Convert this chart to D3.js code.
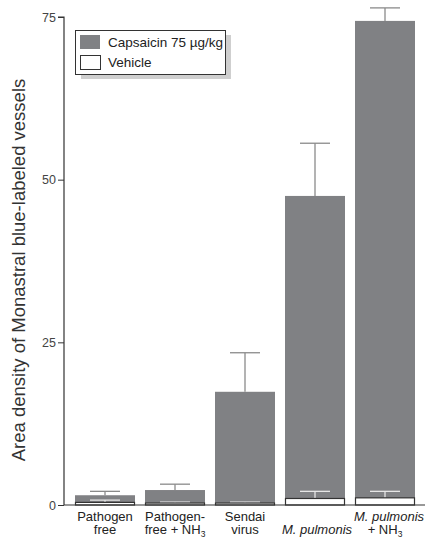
<!DOCTYPE html>
<html>
<head>
<meta charset="utf-8">
<script src="https://cdn.jsdelivr.net/npm/d3@7"></script>
<style>
  body { margin: 0; background: #fff; }
  svg text { font-family: "Liberation Sans Narrow", "Liberation Sans", Arial, sans-serif; }
</style>
</head>
<body>
<svg id="chart" width="426" height="539"></svg>
<script>
// groupes et valeurs
const groups = ['pf', 'pfnh3', 'sendai', 'mp', 'mpnh3'];
const capsaicin    = [1.5, 2.3, 17.4, 47.5, 74.4];
const capsaicinErr = [0.6, 0.9, 6.0, 8.1, 2.0];
const vehicle      = [0.4, 0.3, 0.3, 1.0, 1.1];
const vehicleErr   = [0.35, 0.15, 0.15, 1.1, 1.0];
const yTicks = [0, 25, 50, 75];
const legendLabels = ['Capsaicin 75 \u00b5g/kg', 'Vehicle'];

const GREY = '#808184';
const svg = d3.select('#chart');

const x = d3.scaleBand().domain(groups).range([70, 420]).paddingInner(1 / 7).paddingOuter(1 / 14);
const y = d3.scaleLinear().domain([0, 75]).range([505, 17]);
const bw = x.bandwidth();
const capW = bw / 2;

// barres capsaicine
const g = svg.append('g');
groups.forEach((k, i) => {
  const cx = x(k) + bw / 2;
  g.append('rect')
    .attr('x', x(k)).attr('width', bw)
    .attr('y', y(capsaicin[i])).attr('height', y(0) - y(capsaicin[i]))
    .attr('fill', GREY);
  const top = y(capsaicin[i] + capsaicinErr[i]);
  g.append('line').attr('x1', cx).attr('x2', cx).attr('y1', y(capsaicin[i])).attr('y2', top)
    .attr('stroke', '#8a8a8a').attr('stroke-width', 1.3);
  g.append('line').attr('x1', cx - capW / 2).attr('x2', cx + capW / 2).attr('y1', top).attr('y2', top)
    .attr('stroke', '#8a8a8a').attr('stroke-width', 1.3);
});

// barres véhicule (par-dessus)
groups.forEach((k, i) => {
  const cx = x(k) + bw / 2;
  const top = y(vehicle[i] + vehicleErr[i]);
  g.append('line').attr('x1', cx).attr('x2', cx).attr('y1', y(vehicle[i])).attr('y2', top)
    .attr('stroke', '#e6e6e6').attr('stroke-width', 1.3);
  g.append('line').attr('x1', cx - capW / 2).attr('x2', cx + capW / 2).attr('y1', top).attr('y2', top)
    .attr('stroke', '#e6e6e6').attr('stroke-width', 1.3);
  g.append('rect')
    .attr('x', x(k) + 0.5).attr('width', bw - 1)
    .attr('y', y(vehicle[i])).attr('height', y(0) - y(vehicle[i]))
    .attr('fill', '#fff').attr('stroke', '#333').attr('stroke-width', 1.2);
});

// axes
const yAxis = svg.append('g').attr('transform', 'translate(64,0)')
  .call(d3.axisLeft(y).tickValues(yTicks).tickSize(6).tickPadding(2));
yAxis.select('.domain').attr('stroke', '#333').attr('stroke-width', 1.2).attr('d', `M-6,${y(75)}H0V${y(0)}`);
yAxis.selectAll('.tick line').attr('stroke', '#333');
yAxis.selectAll('.tick text').attr('font-size', 12.5).attr('fill', '#444')
  .style('font-family', '"Liberation Sans Narrow", Arial, sans-serif');

svg.append('line').attr('x1', 64).attr('x2', 425).attr('y1', y(0)).attr('y2', y(0))
  .attr('stroke', '#333').attr('stroke-width', 1.2);

svg.append('text')
  .attr('transform', `translate(25,${(y(0) + y(75)) / 2 + 9}) rotate(-90)`)
  .attr('text-anchor', 'middle').attr('font-size', 18.5).attr('fill', '#333')
  .text('Area density of Monastral blue-labeled vessels');

// libellés des catégories
const lab = svg.append('g').attr('font-size', 13).attr('fill', '#222').attr('text-anchor', 'middle');
function line(cx, yy, parts) {
  const t = lab.append('text').attr('x', cx).attr('y', yy);
  parts.forEach(p => {
    const s = t.append('tspan').text(p.t);
    if (p.i) s.attr('font-style', 'italic');
    if (p.sub) s.attr('font-size', 8.5).attr('dy', 2.5);
  });
  return t;
}
const c = k => x(k) + bw / 2;
line(c('pf'), 520.5, [{ t: 'Pathogen' }]);
line(c('pf'), 534, [{ t: 'free' }]);
line(c('pfnh3'), 520.5, [{ t: 'Pathogen-' }]);
line(c('pfnh3'), 534, [{ t: 'free + NH' }, { t: '3', sub: true }]);
line(c('sendai'), 520.5, [{ t: 'Sendai' }]);
line(c('sendai'), 534, [{ t: 'virus' }]);
line(c('mp') + 2, 534, [{ t: 'M. pulmonis', i: true }]);
line(c('mpnh3') + 4, 520.5, [{ t: 'M. pulmonis', i: true }]);
line(c('mpnh3'), 534, [{ t: '+ NH' }, { t: '3', sub: true }]);

// légende avec ombre
const lg = svg.append('g');
lg.append('rect').attr('x', 81).attr('y', 35).attr('width', 150).attr('height', 44).attr('fill', '#cfcfcf');
lg.append('rect').attr('x', 75.5).attr('y', 30.5).attr('width', 150).attr('height', 44)
  .attr('fill', '#fff').attr('stroke', '#333').attr('stroke-width', 1);
lg.append('rect').attr('x', 80).attr('y', 35).attr('width', 20).attr('height', 14).attr('fill', GREY);
lg.append('rect').attr('x', 80.5).attr('y', 55.5).attr('width', 20).attr('height', 14)
  .attr('fill', '#fff').attr('stroke', '#333');
legendLabels.forEach((t, i) => {
  lg.append('text').attr('x', 108).attr('y', 47 + i * 20).attr('font-size', 13.5).attr('fill', '#222').text(t);
});
</script>
</body>
</html>
